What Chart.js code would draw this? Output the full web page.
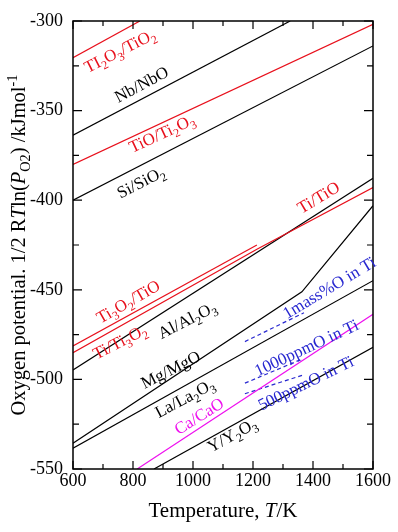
<!DOCTYPE html>
<html>
<head>
<meta charset="utf-8">
<script src="https://cdn.jsdelivr.net/npm/chart.js@4.4.1/dist/chart.umd.min.js"></script>
<style>
  body { margin: 0; background: #fff; }
  canvas { display: block; }
</style>
</head>
<body>
<canvas id="chart" width="398" height="532"></canvas>
<script>
// axis ranges and ticks
const xTicks = [600, 800, 1000, 1200, 1400, 1600];
const yTicks = [-550, -500, -450, -400, -350, -300];

// Temperature (K) / oxygen potential (kJ/mol) pairs
const ti2o3T = [600, 823];
const ti2o3G = [-320.5, -300];
const nbT = [600, 1324];
const nbG = [-363.7, -300];
const tioT = [600, 1600];
const tioG = [-380, -301.8];
const siT = [600, 1600];
const siG = [-400, -313.9];
const ti3o2T = [600, 1213];
const ti3o2G = [-481.3, -425];
const tiT = [600, 1213, 1600];
const tiG = [-485.1, -427.4, -392.9];
const alT = [600, 1600];
const alG = [-494.7, -387.8];
const mgT = [600, 1363, 1600];
const mgG = [-535.6, -451.1, -403.1];
const laT = [600, 1600];
const laG = [-538.4, -444.9];
const caT = [814, 1600];
const caG = [-550, -463.7];
const yT = [870, 1600];
const yG = [-550, -482.1];
const mass1T = [1173, 1370];
const mass1G = [-478.9, -462.8];
const ppm1000T = [1173, 1363];
const ppm1000G = [-502.1, -488.7];
const ppm500T = [1173, 1368];
const ppm500G = [-508, -497.5];

const RED = "#e8101c";
const BLACK = "#000000";
const MAGENTA = "#ee10ee";
const BLUE = "#2828d0";
const SERIF = "'Liberation Serif', 'Times New Roman', serif";

// line labels: text (_ = subscript digit), position in data units, angle in degrees
const labels = [
  { text: "TI_2O_3/TiO_2", t: 756, g: -316.5, a: 27, c: RED },
  { text: "Nb/NbO", t: 828, g: -335.3, a: 28, c: BLACK },
  { text: "TiO/Ti_2O_3", t: 896, g: -362.6, a: 25, c: RED },
  { text: "Si/SiO_2", t: 826, g: -389.9, a: 27, c: BLACK },
  { text: "Ti/TiO", t: 1418, g: -398.4, a: 31, c: RED },
  { text: "Ti_3O_2/TiO", t: 784, g: -456.5, a: 30, c: RED },
  { text: "Ti/Ti_3O_2", t: 756, g: -478.9, a: 27, c: RED },
  { text: "Al/Al_2O_3", t: 980, g: -466.8, a: 27, c: BLACK },
  { text: "Mg/MgO", t: 925, g: -494.5, a: 27, c: BLACK },
  { text: "La/La_2O_3", t: 972, g: -510.4, a: 28, c: BLACK },
  { text: "Ca/CaO", t: 1020, g: -520.4, a: 32, c: MAGENTA },
  { text: "Y/Y_2O_3", t: 1130, g: -531, a: 29, c: BLACK },
  { text: "1mass%O in Ti", t: 1454, g: -448.7, a: 31, c: BLUE },
  { text: "1000ppmO in Ti", t: 1378, g: -482.2, a: 25, c: BLUE },
  { text: "500ppmO in Ti", t: 1376, g: -502, a: 26, c: BLUE },
];

function pts(ts, gs) {
  return ts.map((t, i) => ({ x: t, y: gs[i] }));
}

function series(ts, gs, color, dashed) {
  return {
    data: pts(ts, gs),
    borderColor: color,
    borderWidth: 1.2,
    borderDash: dashed ? [4, 3] : [],
    pointRadius: 0,
    fill: false,
    tension: 0,
  };
}

function parseText(str) {
  // "Ti_2O_3" -> segments with subscripts
  const segs = [];
  let i = 0;
  while (i < str.length) {
    if (str[i] === "_") {
      segs.push({ t: str[i + 1], sub: true });
      i += 2;
    } else {
      let j = i;
      while (j < str.length && str[j] !== "_") j++;
      segs.push({ t: str.slice(i, j) });
      i = j;
    }
  }
  return segs;
}

function segFont(s, size) {
  const sz = s.sub || s.sup ? size * 0.7 : size;
  return (s.it ? "italic " : "") + sz + "px " + SERIF;
}

function drawRich(ctx, segs, x, y, angle, size, color) {
  ctx.save();
  ctx.translate(x, y);
  ctx.rotate(-angle * Math.PI / 180);
  ctx.fillStyle = color;
  ctx.textBaseline = "alphabetic";
  let w = 0;
  segs.forEach((s) => {
    ctx.font = segFont(s, size);
    s.w = ctx.measureText(s.t).width;
    w += s.w;
  });
  let cx = -w / 2;
  const base = size * 0.33;
  segs.forEach((s) => {
    ctx.font = segFont(s, size);
    let dy = base;
    if (s.sub) dy += size * 0.25;
    if (s.sup) dy -= size * 0.4;
    ctx.fillText(s.t, cx, dy);
    cx += s.w;
  });
  ctx.restore();
}

const decorPlugin = {
  id: "decor",
  afterDatasetsDraw(chart) {
    const { ctx, chartArea: ca, scales } = chart;
    const xs = scales.x, ys = scales.y;

    // frame
    ctx.save();
    ctx.strokeStyle = "#000";
    ctx.lineWidth = 1.5;
    ctx.strokeRect(ca.left, ca.top, ca.right - ca.left, ca.bottom - ca.top);

    // inward ticks
    ctx.lineWidth = 1.2;
    ctx.beginPath();
    for (let t = 600; t <= 1600; t += 100) {
      const px = xs.getPixelForValue(t);
      const len = t % 200 === 0 ? 8 : 5;
      ctx.moveTo(px, ca.bottom); ctx.lineTo(px, ca.bottom - len);
      ctx.moveTo(px, ca.top); ctx.lineTo(px, ca.top + len);
    }
    for (let g = -550; g <= -300; g += 25) {
      const py = ys.getPixelForValue(g);
      const len = g % 50 === 0 ? 9 : 6;
      ctx.moveTo(ca.left, py); ctx.lineTo(ca.left + len, py);
      ctx.moveTo(ca.right, py); ctx.lineTo(ca.right - len, py);
    }
    ctx.stroke();
    ctx.restore();

    // labels on the lines
    labels.forEach((l) => {
      drawRich(ctx, parseText(l.text), xs.getPixelForValue(l.t), ys.getPixelForValue(l.g), l.a, 17, l.c);
    });

    // axis titles
    const xTitle = [{ t: "Temperature, " }, { t: "T", it: true }, { t: "/K" }];
    drawRich(ctx, xTitle, (ca.left + ca.right) / 2, 510, 0, 21, "#000");
    const yTitle = [
      { t: "Oxygen potential. 1/2 R" }, { t: "T", it: true }, { t: "ln(" },
      { t: "P", it: true }, { t: "O2", sub: true }, { t: ") /kJmol" }, { t: "-1", sup: true },
    ];
    drawRich(ctx, yTitle, 18, (ca.top + ca.bottom) / 2, 90, 20.5, "#000");
  },
};

new Chart(document.getElementById("chart"), {
  type: "line",
  data: {
    datasets: [
      series(ti2o3T, ti2o3G, RED),
      series(nbT, nbG, BLACK),
      series(tioT, tioG, RED),
      series(siT, siG, BLACK),
      series(ti3o2T, ti3o2G, RED),
      series(tiT, tiG, RED),
      series(alT, alG, BLACK),
      series(mgT, mgG, BLACK),
      series(laT, laG, BLACK),
      series(caT, caG, MAGENTA),
      series(yT, yG, BLACK),
      series(mass1T, mass1G, BLUE, true),
      series(ppm1000T, ppm1000G, BLUE, true),
      series(ppm500T, ppm500G, BLUE, true),
    ],
  },
  options: {
    responsive: false,
    animation: false,
    layout: { padding: { top: 21, right: 25, left: 0, bottom: 0 } },
    plugins: { legend: { display: false }, tooltip: { enabled: false } },
    scales: {
      x: {
        type: "linear",
        min: 600,
        max: 1600,
        afterBuildTicks: (s) => { s.ticks = xTicks.map((v) => ({ value: v })); },
        afterFit: (s) => { s.height = 63; },
        grid: { display: false },
        border: { display: false },
        ticks: {
          color: "#000",
          padding: -7,
          font: { family: SERIF, size: 18 },
          callback: (v) => String(v),
        },
      },
      y: {
        type: "linear",
        min: -550,
        max: -300,
        afterBuildTicks: (s) => { s.ticks = yTicks.map((v) => ({ value: v })); },
        afterFit: (s) => { s.width = 73; },
        grid: { display: false },
        border: { display: false },
        ticks: {
          color: "#000",
          padding: 2,
          font: { family: SERIF, size: 18 },
          callback: (v) => String(v),
        },
      },
    },
  },
  plugins: [decorPlugin],
});
</script>
</body>
</html>
